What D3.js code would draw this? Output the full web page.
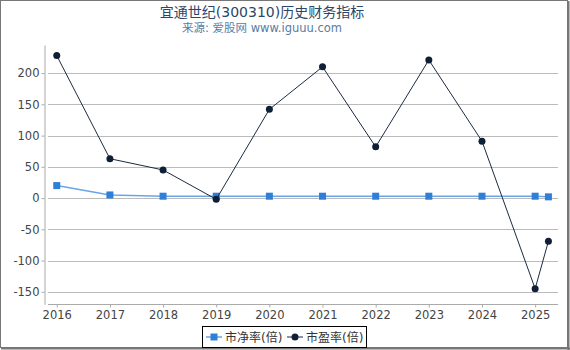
<!DOCTYPE html>
<html>
<head>
<meta charset="utf-8">
<script src="https://cdn.jsdelivr.net/npm/d3@7/dist/d3.min.js"></script>
<style>
  body { margin: 0; background: #fff; }
  text { font-family: "DejaVu Sans", "Noto Sans CJK SC", sans-serif; }
</style>
</head>
<body>
<div id="chart"></div>
<script>
// Chart data
var years = [2016, 2017, 2018, 2019, 2020, 2021, 2022, 2023, 2024, 2025, 2025.25];
var pbValues = [20, 5, 3, 3, 3, 3, 3, 3, 3, 3, 2];
var peValues = [228, 63, 45, -2, 142, 210, 82, 221, 91, -145, -69];
var yTicks = [-150, -100, -50, 0, 50, 100, 150, 200];
var xTicks = [2016, 2017, 2018, 2019, 2020, 2021, 2022, 2023, 2024, 2025];
var seriesNames = ["市净率(倍)", "市盈率(倍)"];

var width = 570,
    height = 350;

var svg = d3.select("#chart").append("svg")
    .attr("width", width)
    .attr("height", height);

// frame
svg.append("rect")
    .attr("x", 0.5).attr("y", 0.5)
    .attr("width", 567).attr("height", 347)
    .attr("fill", "none")
    .attr("stroke", "#777")
    .attr("stroke-width", 1);
svg.append("line")
    .attr("x1", 568.5).attr("x2", 568.5).attr("y1", 1).attr("y2", 350)
    .attr("stroke", "#777").attr("stroke-width", 2);
svg.append("line")
    .attr("x1", 1).attr("x2", 570).attr("y1", 348.5).attr("y2", 348.5)
    .attr("stroke", "#777").attr("stroke-width", 2);

// Titles
svg.append("text")
    .attr("x", 262).attr("y", 17)
    .attr("text-anchor", "middle")
    .attr("font-size", 14)
    .attr("fill", "#2a4768")
    .text("宜通世纪(300310)历史财务指标");

svg.append("text")
    .attr("x", 262).attr("y", 32)
    .attr("text-anchor", "middle")
    .attr("font-size", 11.5)
    .attr("fill", "#5a7ba3")
    .text("来源: 爱股网 www.iguuu.com");

// Scales
var x = d3.scaleLinear()
    .domain([2015.76, 2025.43])
    .range([44, 558]);

var y = d3.scaleLinear()
    .domain([-170, 245])
    .range([304.3, 45]);

// Grid lines
svg.append("g")
    .selectAll("line")
    .data(yTicks)
    .enter().append("line")
    .attr("x1", 48).attr("x2", 558)
    .attr("y1", function(d) { return Math.round(y(d)) + 0.5; })
    .attr("y2", function(d) { return Math.round(y(d)) + 0.5; })
    .attr("stroke", "#bbb")
    .attr("stroke-width", 1);

// Y axis
var yAxis = svg.append("g")
    .attr("transform", "translate(44.5,0)")
    .call(d3.axisLeft(y).tickValues(yTicks).tickFormat(function(d) { return String(d); })
          .tickSize(3).tickSizeOuter(0));
yAxis.select(".domain").attr("stroke", "#aaa");
yAxis.selectAll(".tick line").attr("stroke", "#aaa");
yAxis.selectAll(".tick text")
    .attr("font-size", 11.5)
    .attr("fill", "#444")
    .attr("x", -5)
    .attr("font-family", "DejaVu Sans");

// X axis
var xAxis = svg.append("g")
    .attr("transform", "translate(0,304.5)")
    .call(d3.axisBottom(x).tickValues(xTicks).tickFormat(d3.format("d")).tickSize(3).tickSizeOuter(0));
xAxis.select(".domain").attr("stroke", "#aaa").attr("d", "M48,0H558");
xAxis.selectAll(".tick line").attr("stroke", "#aaa");
xAxis.selectAll(".tick text")
    .attr("font-size", 11.5)
    .attr("fill", "#444")
    .attr("y", 6)
    .attr("font-family", "DejaVu Sans");

var pbData = years.map(function(d, i) { return [d, pbValues[i]]; });
var peData = years.map(function(d, i) { return [d, peValues[i]]; });

var line = d3.line()
    .x(function(d) { return x(d[0]); })
    .y(function(d) { return y(d[1]); });

// PB series
svg.append("path")
    .datum(pbData)
    .attr("d", line)
    .attr("fill", "none")
    .attr("stroke", "#6aa5e6")
    .attr("stroke-width", 1.5);

svg.selectAll(".pb-point")
    .data(pbData)
    .enter().append("rect")
    .attr("class", "pb-point")
    .attr("x", function(d) { return x(d[0]) - 3.5; })
    .attr("y", function(d) { return y(d[1]) - 3.5; })
    .attr("width", 7).attr("height", 7)
    .attr("fill", "#2f7fd8");

// PE series
svg.append("path")
    .datum(peData)
    .attr("d", line)
    .attr("fill", "none")
    .attr("stroke", "#1c2b42")
    .attr("stroke-width", 1);

svg.selectAll(".pe-point")
    .data(peData)
    .enter().append("circle")
    .attr("class", "pe-point")
    .attr("cx", function(d) { return x(d[0]); })
    .attr("cy", function(d) { return y(d[1]); })
    .attr("r", 3.5)
    .attr("fill", "#0f1f36");

// Legend
var legend = svg.append("g");
legend.append("rect")
    .attr("x", 202.5).attr("y", 326.5)
    .attr("width", 164).attr("height", 21)
    .attr("fill", "#fff")
    .attr("stroke", "#000");

legend.append("line")
    .attr("x1", 206).attr("x2", 222).attr("y1", 337).attr("y2", 337)
    .attr("stroke", "#6aa5e6").attr("stroke-width", 1.5);
legend.append("rect")
    .attr("x", 210.5).attr("y", 333.5).attr("width", 7).attr("height", 7)
    .attr("fill", "#2f7fd8");
legend.append("text")
    .attr("x", 225).attr("y", 341.5)
    .attr("font-size", 12).attr("fill", "#333")
    .text(seriesNames[0]);

legend.append("line")
    .attr("x1", 287).attr("x2", 303).attr("y1", 337).attr("y2", 337)
    .attr("stroke", "#1c2b42").attr("stroke-width", 1);
legend.append("circle")
    .attr("cx", 295).attr("cy", 337).attr("r", 3.5)
    .attr("fill", "#0f1f36");
legend.append("text")
    .attr("x", 306).attr("y", 341.5)
    .attr("font-size", 12).attr("fill", "#333")
    .text(seriesNames[1]);
</script>
</body>
</html>
